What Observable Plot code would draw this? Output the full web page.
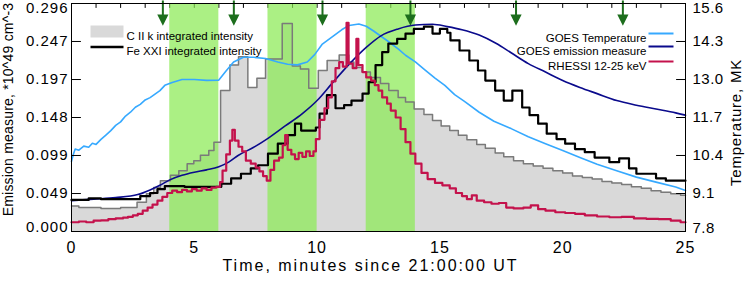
<!DOCTYPE html>
<html><head><meta charset="utf-8">
<script src="https://cdn.jsdelivr.net/npm/d3@7"></script>
<script src="https://cdn.jsdelivr.net/npm/@observablehq/plot@0.6"></script>
<style>
body{margin:0;background:#fff;}
#chart svg{display:block;}
</style></head><body><div id="chart"></div>
<script>
// ---------- data ----------
const bandStarts = [4, 8, 12];
const bandEnds = [6, 10, 14];
const arrowTimes = [3.72, 6.61, 10.22, 13.8, 18.1, 22.45];

const xTickValues = [0, 5, 10, 15, 20, 25];
const minuteTicks = [1,2,3,4,5,6,7,8,9,10,11,12,13,14,15,16,17,18,19,20,21,22,23,24];
const emTickValues = [0, 0.0493, 0.0987, 0.148, 0.1973, 0.2467, 0.296];
const emTickLabels = ["0.000", "0.049", "0.099", "0.148", "0.197", "0.247", "0.296"];
const tempTickLabels = ["7.8", "9.1", "10.4", "11.7", "13.0", "14.3", "15.6"];
const tempMin = 7.8, tempMax = 15.6;
const xTitle = "Time, minutes since 21:00:00 UT";
const yTitleLeft = "Emission measure, *10^49 cm^-3";
const yTitleRight = "Temperature, MK";

// C II k integrated intensity (step histogram, left-axis units)
const ciiTimes = [0, 0.3, 1.2, 2.0, 2.67, 3.05, 3.35, 3.62, 4.03, 4.37, 4.71, 4.98, 5.25, 5.59, 5.8,
  6.07, 6.45, 6.8, 7.18, 7.55, 7.9, 8.58, 8.99, 9.32, 9.66, 10.05, 10.41, 10.9, 11.29, 11.5, 11.83,
  12.17, 12.58, 12.92, 13.3, 13.6, 13.95, 14.35, 14.7, 15.05, 15.4, 15.75, 16.1, 16.5, 16.85, 17.25,
  17.6, 18.0, 18.4, 18.8, 19.2, 19.6, 20.0, 20.4, 20.8, 21.2, 21.6, 22.0, 22.4, 22.8, 23.2, 23.6,
  24.0, 24.4, 24.8, 25];
const ciiValues = [0.033, 0.031, 0.030, 0.031, 0.038, 0.049, 0.057, 0.066, 0.073, 0.079, 0.088, 0.092, 0.099, 0.105, 0.116,
  0.183, 0.216, 0.227, 0.187, 0.199, 0.224, 0.270, 0.215, 0.211, 0.186, 0.209, 0.222, 0.229, 0.220, 0.213, 0.207,
  0.200, 0.192, 0.183, 0.174, 0.168, 0.159, 0.152, 0.144, 0.137, 0.131, 0.125, 0.119, 0.113, 0.108, 0.102,
  0.097, 0.092, 0.088, 0.085, 0.082, 0.079, 0.076, 0.072, 0.070, 0.068, 0.065, 0.063, 0.061, 0.058, 0.056, 0.053,
  0.051, 0.049, 0.047, 0.047];

// Fe XXI integrated intensity (step, left-axis units)
const feTimes = [0, 0.7, 1.2, 2.8, 3.2, 3.5, 3.8, 4.6, 6.1, 6.5, 6.9, 7.3, 7.6, 8.0, 8.4, 8.8, 9.1, 9.35,
  9.95, 10.1, 10.4, 10.75, 11.1, 11.4, 11.85, 12.1, 12.38, 12.65, 12.9, 13.26, 13.6, 13.94, 14.35, 14.7,
  15.0, 15.3, 15.43, 15.8, 16.2, 16.55, 16.85, 17.25, 17.6, 17.95, 18.35, 18.65, 19.0, 19.35, 19.75,
  20.1, 20.5, 20.9, 21.3, 21.9, 22.3, 22.7, 23.0, 23.8, 24.2, 25];
const feValues = [0.041, 0.043, 0.042, 0.046, 0.050, 0.055, 0.059, 0.058, 0.062, 0.069, 0.075, 0.082, 0.086, 0.101, 0.114, 0.125, 0.140, 0.131,
  0.135, 0.153, 0.177, 0.160, 0.164, 0.170, 0.179, 0.194, 0.216, 0.233, 0.244, 0.250, 0.257, 0.263, 0.266, 0.257,
  0.263, 0.258, 0.248, 0.235, 0.222, 0.209, 0.196, 0.183, 0.170, 0.183, 0.161, 0.151, 0.140, 0.127, 0.120,
  0.114, 0.107, 0.103, 0.096, 0.090, 0.095, 0.082, 0.075, 0.069, 0.066, 0.066];

// GOES temperature, MK (right axis)
const goesTTimes = [0, 0.08, 0.15, 0.3, 0.5, 0.7, 0.85, 1.0, 1.2, 1.4, 1.6, 1.8, 2.0, 2.2, 2.4, 2.6, 2.8, 3.0, 3.2, 3.4,
  3.6, 3.8, 4.1, 4.5, 5.0, 5.5, 6.0, 6.3, 6.6, 7.0, 7.4, 7.9, 8.4, 8.8, 9.2, 9.6, 9.9, 10.2, 10.6, 11.0, 11.3, 11.7,
  12.0, 12.3, 12.6, 12.9, 13.3, 13.6, 14.0, 14.4, 14.8, 15.2, 15.6, 16.0, 16.6, 17.2, 17.9, 18.6, 19.3, 20.0, 20.7,
  21.4, 22.2, 23.0, 23.8, 24.6, 25];
const goesTValues = [10.2, 10.45, 10.62, 10.58, 10.72, 10.68, 10.82, 10.78, 10.95, 11.1, 11.25, 11.43, 11.55, 11.75, 11.88, 12.05, 12.15, 12.3, 12.38, 12.5,
  12.62, 12.8, 12.9, 13.0, 13.0, 12.97, 12.98, 13.3, 13.6, 13.76, 13.76, 13.72, 13.6, 13.52, 13.5, 13.6, 13.85, 14.2, 14.45, 14.7, 14.85, 14.9,
  14.82, 14.66, 14.48, 14.3, 14.05, 13.83, 13.6, 13.32, 13.05, 12.8, 12.48, 12.25, 11.88, 11.57, 11.32, 11.04, 10.8, 10.57, 10.33,
  10.1, 9.88, 9.66, 9.49, 9.32, 9.2];

// GOES emission measure, 10^49 cm^-3 (left axis)
const goesEMTimes = [0, 0.9, 1.8, 2.7, 3.2, 3.6, 4.0, 4.5, 5.0, 5.5, 6.0, 6.4, 6.8, 7.4, 8.0, 8.7, 9.4, 10.0, 10.6,
  11.3, 12.0, 12.6, 13.3, 14.0, 14.7, 15.3, 15.9, 16.6, 17.3, 17.9, 18.6, 19.3, 20.0, 20.7, 21.4, 22.2, 23.0, 23.8, 24.6, 25];
const goesEMValues = [0.040, 0.042, 0.044, 0.048, 0.054, 0.060, 0.067, 0.073, 0.077, 0.080, 0.084, 0.090, 0.099, 0.109, 0.121, 0.137, 0.153, 0.170, 0.192,
  0.217, 0.239, 0.254, 0.263, 0.268, 0.269, 0.266, 0.262, 0.255, 0.244, 0.232, 0.218, 0.207, 0.196, 0.187, 0.179, 0.170, 0.164, 0.159, 0.154, 0.151];

// RHESSI 12-25 keV (step, left-axis units)
const rhessiTimes = [0, 0.3, 0.6, 0.9, 1.2, 1.5, 1.8, 2.1, 2.3, 2.5, 2.7, 2.9, 3.1, 3.3, 3.5, 3.7, 3.9, 4.1, 4.3, 4.5, 4.7, 4.9,
  5.1, 5.3, 5.5, 5.7, 5.9, 6.05, 6.15, 6.3, 6.45, 6.55, 6.65, 6.8, 6.95, 7.1, 7.3, 7.5, 7.65, 7.8, 7.95, 8.1, 8.25, 8.45,
  8.6, 8.7, 8.8, 8.95, 9.1, 9.25, 9.4, 9.55, 9.7, 9.85, 9.95, 10.1, 10.3, 10.45, 10.6, 10.75, 10.9, 11.05, 11.2, 11.28,
  11.45, 11.6, 11.68, 11.85, 12.0, 12.2, 12.35, 12.5, 12.65, 12.85, 13.0, 13.2, 13.4, 13.6, 13.8, 14.0, 14.25, 14.5,
  14.8, 15.1, 15.4, 15.65, 15.9, 16.1, 16.3, 16.5, 16.8, 17.1, 17.4, 17.7, 18.0, 18.4, 18.7, 19.0, 19.3, 19.7, 20.1,
  20.5, 20.9, 21.4, 21.9, 22.4, 22.9, 23.4, 23.9, 24.4, 24.8, 25];
const rhessiValues = [0.012, 0.013, 0.012, 0.014, 0.0145, 0.016, 0.017, 0.018, 0.019, 0.021, 0.023, 0.027, 0.031, 0.035, 0.040, 0.045, 0.050, 0.053, 0.051, 0.054, 0.052, 0.055,
  0.053, 0.056, 0.054, 0.057, 0.058, 0.064, 0.079, 0.100, 0.118, 0.132, 0.118, 0.110, 0.104, 0.092, 0.088, 0.083, 0.078, 0.072, 0.066, 0.080, 0.092, 0.096,
  0.112, 0.125, 0.106, 0.100, 0.094, 0.102, 0.097, 0.104, 0.098, 0.104, 0.120, 0.145, 0.160, 0.174, 0.195, 0.212, 0.220, 0.214, 0.271, 0.218,
  0.212, 0.250, 0.216, 0.207, 0.200, 0.196, 0.190, 0.183, 0.174, 0.166, 0.157, 0.148, 0.133, 0.116, 0.101, 0.088, 0.076, 0.068,
  0.063, 0.060, 0.056, 0.050, 0.046, 0.042, 0.047, 0.040, 0.038, 0.036, 0.037, 0.031, 0.030, 0.031, 0.034, 0.029, 0.027, 0.025, 0.024,
  0.023, 0.021, 0.0195, 0.0185, 0.019, 0.017, 0.0165, 0.016, 0.014, 0.012, 0.012];

// ---------- tables ----------
const emMax = emTickValues[emTickValues.length - 1];
const toLeft = (T) => (T - tempMin) / (tempMax - tempMin) * emMax;
const cii = ciiTimes.map((t, i) => ({t, v: ciiValues[i]}));
const fe = feTimes.map((t, i) => ({t, v: feValues[i]}));
const goesT = goesTTimes.map((t, i) => ({t, v: toLeft(goesTValues[i])}));
const goesEM = goesEMTimes.map((t, i) => ({t, v: goesEMValues[i]}));
const rhessi = rhessiTimes.map((t, i) => ({t, v: rhessiValues[i]}));
const bands = bandStarts.map((s, i) => ({s, e: bandEnds[i]}));

const tickLine = {draw(ctx, l) { ctx.moveTo(0, 0); ctx.lineTo(0, -l); }};
const arrowShape = {draw(ctx, l) {
  const h = 8, w = 4;
  ctx.moveTo(0, 0); ctx.lineTo(0, -(l - h));
  ctx.moveTo(-w, -(l - h)); ctx.lineTo(w, -(l - h)); ctx.lineTo(0, -l); ctx.closePath();
}};

const FONT = "Liberation Sans, Arial, Helvetica, sans-serif";
const GREEN = "#1d6e1d";

const chart = Plot.plot({
  width: 747, height: 282,
  marginLeft: 71, marginRight: 62, marginTop: 3, marginBottom: 51,
  style: {fontFamily: FONT, background: "white", color: "black", overflow: "visible"},
  x: {domain: [0, 25], axis: null},
  y: {domain: [0, emMax], axis: null},
  marks: [
    Plot.vector(minuteTicks, {x: d => d, frameAnchor: "top", length: 4, rotate: 180, anchor: "start", shape: tickLine, stroke: "black", strokeWidth: 1}),
    Plot.areaY(cii, {x: "t", y: "v", curve: "step-after", fill: "#d9d9d9"}),
    Plot.rect(bands, {x1: "s", x2: "e", fill: "#8aea55", fillOpacity: 0.72}),
    Plot.line(cii, {x: "t", y: "v", curve: "step-after", stroke: "#7a7a7a", strokeWidth: 1.5}),
    Plot.line(goesT, {x: "t", y: "v", stroke: "#36a9ff", strokeWidth: 1.6}),
    Plot.line(goesEM, {x: "t", y: "v", curve: "monotone-x", stroke: "#0a0a8c", strokeWidth: 1.6}),
    Plot.line(fe, {x: "t", y: "v", curve: "step-after", stroke: "black", strokeWidth: 2.2}),
    Plot.line(rhessi, {x: "t", y: "v", curve: "step-after", stroke: "#c4124c", strokeWidth: 2.2}),
    Plot.vector(arrowTimes, {x: d => d, frameAnchor: "top", dy: -3, length: 23, rotate: 180, anchor: "start", shape: arrowShape, stroke: GREEN, fill: GREEN, strokeWidth: 2, strokeLinecap: "butt", strokeLinejoin: "miter"}),
    Plot.frame({stroke: "black", strokeWidth: 1}),
    Plot.vector(emTickValues, {y: d => d, frameAnchor: "left", length: 9, rotate: 90, anchor: "start", shape: tickLine, stroke: "black", strokeWidth: 1}),
    Plot.vector(emTickValues, {y: d => d, frameAnchor: "right", length: 9, rotate: -90, anchor: "start", shape: tickLine, stroke: "black", strokeWidth: 1}),
    // left tick labels
    Plot.text(emTickValues.slice(1, 6), {y: d => d, frameAnchor: "left", dx: -3, textAnchor: "end", text: (d, i) => emTickLabels[i + 1], fontSize: 15}),
    Plot.text([emTickValues[0]], {y: d => d, frameAnchor: "left", dx: -3, dy: -4, textAnchor: "end", text: () => emTickLabels[0], fontSize: 15}),
    Plot.text([emTickValues[6]], {y: d => d, frameAnchor: "left", dx: -3, dy: 5, textAnchor: "end", text: () => emTickLabels[6], fontSize: 15}),
    // right tick labels
    Plot.text(emTickValues.slice(1, 6), {y: d => d, frameAnchor: "right", dx: 7, textAnchor: "start", text: (d, i) => tempTickLabels[i + 1], fontSize: 15}),
    Plot.text([emTickValues[0]], {y: d => d, frameAnchor: "right", dx: 7, dy: -3, textAnchor: "start", text: () => tempTickLabels[0], fontSize: 15}),
    Plot.text([emTickValues[6]], {y: d => d, frameAnchor: "right", dx: 7, dy: 5, textAnchor: "start", text: () => tempTickLabels[6], fontSize: 15}),
    // x tick labels
    Plot.text(xTickValues, {x: d => d, frameAnchor: "bottom", dy: 21, text: d => String(d), fontSize: 16}),
    // axis titles
    Plot.text([xTitle], {frameAnchor: "bottom", dx: -8, dy: 39, textAnchor: "middle", fontSize: 16}),
    Plot.text([yTitleLeft], {frameAnchor: "left", dx: -63, dy: -8, textAnchor: "middle", rotate: -90, fontSize: 14}),
    Plot.text([yTitleRight], {frameAnchor: "right", dx: 51, dy: 5, textAnchor: "middle", rotate: -90, fontSize: 15}),
    // left legend
    Plot.vector([0], {frameAnchor: "top-left", dx: 19, dy: 28, length: 33, rotate: 90, anchor: "start", shape: tickLine, stroke: "#d9d9d9", strokeWidth: 12, strokeLinecap: "butt"}),
    Plot.text(["C II k integrated intensity"], {frameAnchor: "top-left", dx: 55, dy: 28, textAnchor: "start", fontSize: 11.5}),
    Plot.vector([0], {frameAnchor: "top-left", dx: 19, dy: 43.5, length: 33, rotate: 90, anchor: "start", shape: tickLine, stroke: "black", strokeWidth: 2.5, strokeLinecap: "butt"}),
    Plot.text(["Fe XXI integrated intensity"], {frameAnchor: "top-left", dx: 55, dy: 43.5, textAnchor: "start", fontSize: 11.5}),
    // right legend
    Plot.vector([0], {frameAnchor: "top-right", dx: -37, dy: 30, length: 25, rotate: 90, anchor: "start", shape: tickLine, stroke: "#36a9ff", strokeWidth: 2, strokeLinecap: "butt"}),
    Plot.vector([0], {frameAnchor: "top-right", dx: -37, dy: 43, length: 25, rotate: 90, anchor: "start", shape: tickLine, stroke: "#0a0a8c", strokeWidth: 2, strokeLinecap: "butt"}),
    Plot.vector([0], {frameAnchor: "top-right", dx: -37, dy: 58, length: 25, rotate: 90, anchor: "start", shape: tickLine, stroke: "#c4124c", strokeWidth: 2, strokeLinecap: "butt"}),
    Plot.text(["GOES Temperature"], {frameAnchor: "top-right", dx: -39, dy: 30, textAnchor: "end", fontSize: 11.5}),
    Plot.text(["GOES emission measure"], {frameAnchor: "top-right", dx: -39, dy: 43, textAnchor: "end", fontSize: 11.5}),
    Plot.text(["RHESSI 12-25 keV"], {frameAnchor: "top-right", dx: -39, dy: 58, textAnchor: "end", fontSize: 11.5})
  ]
});
document.getElementById("chart").appendChild(chart);

// letter spacing, matched by text content
const spacing = new Map();
emTickLabels.forEach(s => spacing.set(s, "1px"));
tempTickLabels.forEach(s => spacing.set(s, "0.5px"));
xTickValues.forEach(v => spacing.set(String(v), "1px"));
spacing.set(xTitle, "2px");
spacing.set(yTitleLeft, "0.2px");
spacing.set(yTitleRight, "0.8px");
d3.select(chart).selectAll("text").each(function() {
  const s = spacing.get(this.textContent);
  if (s) this.style.letterSpacing = s;
});
</script></body></html>
